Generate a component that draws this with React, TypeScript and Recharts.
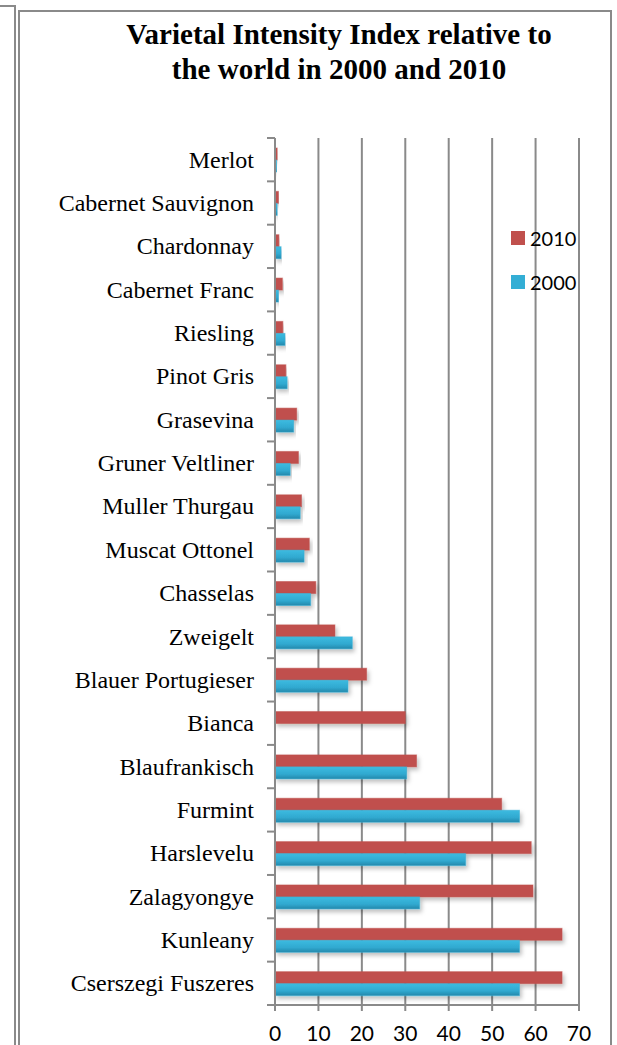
import React from "react";
import { BarChart, Bar, XAxis, YAxis, CartesianGrid } from "recharts";

const varieties = [
  "Merlot",
  "Cabernet Sauvignon",
  "Chardonnay",
  "Cabernet Franc",
  "Riesling",
  "Pinot Gris",
  "Grasevina",
  "Gruner Veltliner",
  "Muller Thurgau",
  "Muscat Ottonel",
  "Chasselas",
  "Zweigelt",
  "Blauer Portugieser",
  "Bianca",
  "Blaufrankisch",
  "Furmint",
  "Harslevelu",
  "Zalagyongye",
  "Kunleany",
  "Cserszegi Fuszeres",
];

const index2010 = [0.5, 0.8, 0.9, 1.7, 1.8, 2.5, 5.0, 5.4, 6.1, 7.9, 9.4, 13.8, 21.1, 30.0, 32.6, 52.2, 59.0, 59.4, 66.1, 66.1];
const index2000 = [0.4, 0.5, 1.4, 0.8, 2.3, 2.8, 4.3, 3.5, 5.8, 6.7, 8.2, 17.8, 16.8, 0, 30.3, 56.3, 43.9, 33.3, 56.3, 56.3];

const xTicks = [0, 10, 20, 30, 40, 50, 60, 70];

const data = varieties.map((name, i) => ({ name, y2010: index2010[i], y2000: index2000[i] }));

const RED = "#C0504D";
const BLUE = "#33AED5";
const AXIS = "#8a8a8a";
const PLOT_TOP = 138;
const PLOT_BOTTOM = 40;
const BAND = (1045 - PLOT_TOP - PLOT_BOTTOM) / varieties.length;
const SERIF = "'Liberation Serif', 'Times New Roman', serif";
const SANS = "Lato, 'Liberation Sans', sans-serif";

function CategoryTick(props: any) {
  const { y, payload, index } = props;
  const axisX = 275;
  return (
    <g>
      <text x={axisX - 21} y={y} textAnchor="end" dominantBaseline="central" fontFamily={SERIF} fontSize={24} fill="#000">
        {payload.value}
      </text>
      <line x1={axisX - 8} x2={axisX} y1={y - BAND / 2} y2={y - BAND / 2} stroke={AXIS} strokeWidth={2} />
      {index === varieties.length - 1 && (
        <line x1={axisX - 8} x2={axisX} y1={y + BAND / 2} y2={y + BAND / 2} stroke={AXIS} strokeWidth={2} />
      )}
    </g>
  );
}

function ShadedBar(props: any) {
  const { x, y, width, height, fill, gradient } = props;
  if (!width || width <= 0) return null;
  return (
    <g filter="url(#barShadow)">
      <rect x={x} y={y} width={width} height={height} fill={gradient ? `url(#${gradient})` : fill} stroke={fill} strokeOpacity={0.5} strokeWidth={1} />
    </g>
  );
}

function LegendBox() {
  const items = [
    { label: "2010", color: RED },
    { label: "2000", color: BLUE },
  ];
  return (
    <div style={{ position: "absolute", left: 511, top: 216 }}>
      {items.map((it) => (
        <div key={it.label} style={{ display: "flex", alignItems: "center", height: 44 }}>
          <div style={{ width: 14, height: 14, background: it.color, marginRight: 5 }} />
          <span style={{ fontFamily: SANS, fontSize: 20, color: "#000" }}>{it.label}</span>
        </div>
      ))}
    </div>
  );
}

export default function App() {
  return (
    <div style={{ position: "absolute", left: 0, top: 0, width: 617, height: 1045, overflow: "hidden", background: "#fff" }}>
      {/* neighbouring frame edge */}
      <div style={{ position: "absolute", left: -10, top: 5, width: 24, height: 1100, borderTop: `2px solid ${AXIS}`, borderRight: `2px solid ${AXIS}` }} />
      {/* chart frame */}
      <div style={{ position: "absolute", left: 18, top: 10, width: 590, height: 1100, border: `2px solid ${AXIS}` }} />
      <div
        style={{
          position: "absolute",
          left: 39,
          top: 17,
          width: 600,
          textAlign: "center",
          fontFamily: SERIF,
          fontWeight: "bold",
          fontSize: 29,
          lineHeight: "35px",
          color: "#000",
        }}
      >
        Varietal Intensity Index relative to
        <br />
        the world in 2000 and 2010
      </div>
      <div style={{ position: "absolute", left: 0, top: 0 }}>
        <BarChart
          width={617}
          height={1045}
          data={data}
          layout="vertical"
          margin={{ top: PLOT_TOP, right: 38, bottom: 0, left: 0 }}
          barGap={0}
          barSize={12}
        >
          <defs>
            <linearGradient id="blueGrad" x1="0" y1="0" x2="0" y2="1">
              <stop offset="0%" stopColor="#3dbbe0" />
              <stop offset="60%" stopColor="#30a9d0" />
              <stop offset="100%" stopColor="#2588ab" />
            </linearGradient>
            <filter id="barShadow" x="-5%" y="-30%" width="115%" height="190%">
              <feDropShadow dx={2} dy={3} stdDeviation={2} floodColor="#000" floodOpacity={0.25} />
            </filter>
          </defs>
          <CartesianGrid horizontal={false} stroke={AXIS} strokeWidth={2} />
          <XAxis
            type="number"
            domain={[0, 70]}
            ticks={xTicks}
            interval={0}
            height={PLOT_BOTTOM}
            axisLine={{ stroke: AXIS, strokeWidth: 2 }}
            tickLine={{ stroke: AXIS, strokeWidth: 2 }}
            tickSize={6}
            tickMargin={15}
            tick={{ fontFamily: SANS, fontSize: 21, fill: "#000" }}
          />
          <YAxis
            type="category"
            dataKey="name"
            width={275}
            interval={0}
            axisLine={{ stroke: AXIS, strokeWidth: 2 }}
            tickLine={false}
            tickSize={0}
            tick={<CategoryTick />}
          />
          <Bar dataKey="y2010" name="2010" fill={RED} isAnimationActive={false} shape={<ShadedBar />} />
          <Bar dataKey="y2000" name="2000" fill={BLUE} isAnimationActive={false} shape={<ShadedBar gradient="blueGrad" />} />
        </BarChart>
      </div>
      <LegendBox />
    </div>
  );
}
